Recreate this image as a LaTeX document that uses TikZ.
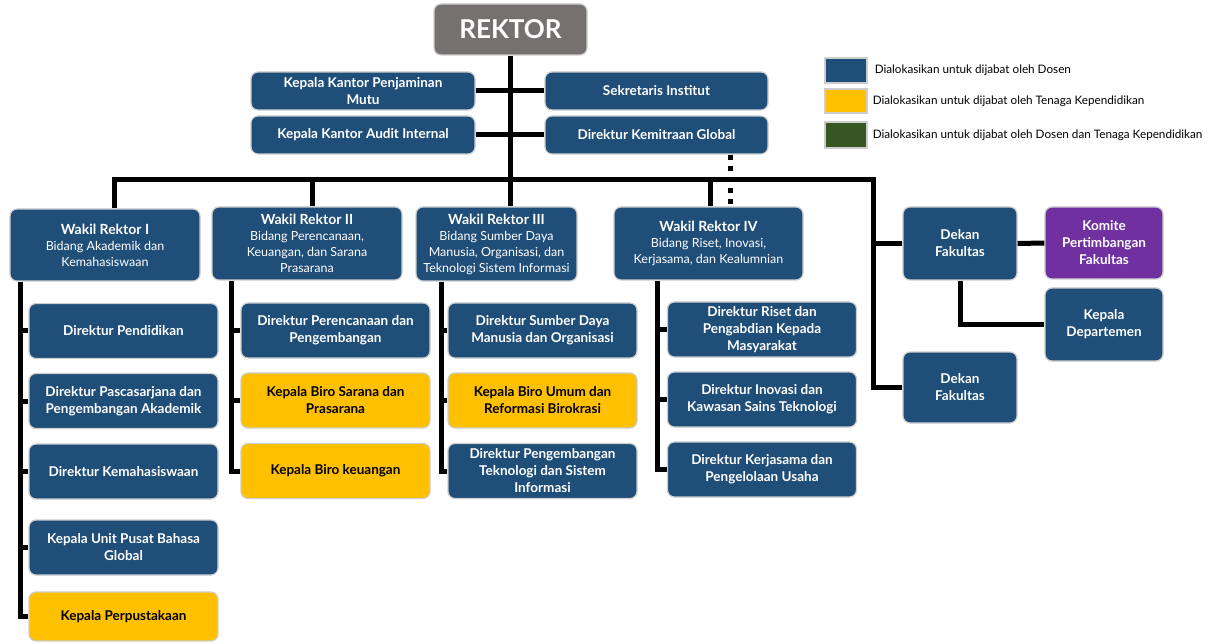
\documentclass[tikz,border=0pt]{standalone}
\usepackage{fontspec}
\setmainfont{Lato}

\begin{document}
\begin{tikzpicture}[x=1pt,y=-1pt]

% Define colors for the units
\definecolor{dosenColor}{RGB}{31,78,121}    % Blue for posts held by lecturers
\definecolor{tendikColor}{RGB}{255,192,0}   % Yellow for posts held by staff
\definecolor{campurColor}{RGB}{55,86,35}    % Green for posts held by both
\definecolor{komiteColor}{RGB}{112,48,160}  % Purple for the faculty committee
\definecolor{rektorColor}{RGB}{118,113,113} % Gray for the top box
\definecolor{edgeColor}{RGB}{205,205,205}   % Light outline of every box

% Styles for boxes and lines
\tikzset{
  unit/.style={
    draw=edgeColor, % Light outline
    line width=1.2pt,
    rounded corners=7pt,
    align=center,
    inner sep=1pt,
    font=\fontsize{13.5}{17}\selectfont\bfseries % Bold box text
  },
  dosen/.style={unit, fill=dosenColor, text=white},
  tendik/.style={unit, fill=tendikColor, text=black},
  komite/.style={unit, fill=komiteColor, text=white},
  wakil/.style={dosen, font=\fontsize{12.5}{16}\selectfont}, % Title + subtitle
  colBox/.style={minimum width=189pt, minimum height=55pt}, % Boxes under the vice rectors
  swatch/.style={draw=edgeColor, line width=1.2pt, minimum width=42pt, minimum height=25pt},
  legText/.style={anchor=west, inner sep=0pt, font=\fontsize{11.7}{13}\selectfont},
  orgLine/.style={line width=5pt}, % Thick black connectors
  tieLine/.style={line width=5pt, dash pattern=on 5pt off 6pt} % Dotted link
}

\useasboundingbox (0,0) rectangle (1221,644);

% Top of the chart
\node[unit, fill=rektorColor, text=white, minimum width=153pt, minimum height=51pt,
  font=\fontsize{26}{28}\selectfont\bfseries] (rektor) at (510.5,29.5) {REKTOR};
\node[dosen, minimum width=224pt, minimum height=38pt] (kpm) at (363,91) {Kepala Kantor Penjaminan\\Mutu};
\node[dosen, minimum width=224pt, minimum height=38pt] (kai) at (363,135) {Kepala Kantor Audit Internal};
\node[dosen, minimum width=223pt, minimum height=38pt] (sekr) at (656.5,91) {Sekretaris Institut};
\node[dosen, minimum width=223pt, minimum height=38pt] (dkg) at (656.5,135) {Direktur Kemitraan Global};

% Vice rectors
\node[wakil, minimum width=190pt, minimum height=72pt] (wr1) at (105,245)
  {{\fontsize{14}{18}\selectfont\bfseries Wakil Rektor I}\\Bidang Akademik dan\\Kemahasiswaan};
\node[wakil, minimum width=190pt, minimum height=73pt] (wr2) at (307,243.5)
  {{\fontsize{14}{18}\selectfont\bfseries Wakil Rektor II}\\Bidang Perencanaan,\\Keuangan, dan Sarana\\Prasarana};
\node[wakil, minimum width=161pt, minimum height=74pt] (wr3) at (496.5,244)
  {{\fontsize{14}{18}\selectfont\bfseries Wakil Rektor III}\\Bidang Sumber Daya\\Manusia, Organisasi, dan\\Teknologi Sistem Informasi};
\node[wakil, minimum width=189pt, minimum height=73pt] (wr4) at (708.5,243.5)
  {{\fontsize{14}{18}\selectfont\bfseries Wakil Rektor IV}\\Bidang Riset, Inovasi,\\Kerjasama, dan Kealumnian};

% Column under Wakil Rektor I
\node[dosen, colBox] (dp) at (123.5,331) {Direktur Pendidikan};
\node[dosen, colBox] (dpa) at (123.5,401) {Direktur Pascasarjana dan\\Pengembangan Akademik};
\node[dosen, colBox] (dk) at (123.5,471.5) {Direktur Kemahasiswaan};
\node[dosen, colBox] (kupbg) at (123.5,547.5) {Kepala Unit Pusat Bahasa\\Global};
\node[tendik, colBox, minimum height=49pt] (kperp) at (123.5,616.5) {Kepala Perpustakaan};

% Column under Wakil Rektor II
\node[dosen, colBox] (dpp) at (335.5,330.5) {Direktur Perencanaan dan\\Pengembangan};
\node[tendik, colBox] (kbsp) at (335.5,400.5) {Kepala Biro Sarana dan\\Prasarana};
\node[tendik, colBox] (kbk) at (335.5,471) {Kepala Biro keuangan};

% Column under Wakil Rektor III
\node[dosen, colBox] (dsdm) at (542.5,330.5) {Direktur Sumber Daya\\Manusia dan Organisasi};
\node[tendik, colBox] (kbu) at (542.5,400.5) {Kepala Biro Umum dan\\Reformasi Birokrasi};
\node[dosen, colBox] (dptsi) at (542.5,471) {Direktur Pengembangan\\Teknologi dan Sistem\\Informasi};

% Column under Wakil Rektor IV
\node[dosen, colBox] (drpm) at (762,329.5) {Direktur Riset dan\\Pengabdian Kepada\\Masyarakat};
\node[dosen, colBox] (dikst) at (762,399.5) {Direktur Inovasi dan\\Kawasan Sains Teknologi};
\node[dosen, colBox] (dkpu) at (762,469.5) {Direktur Kerjasama dan\\Pengelolaan Usaha};

% Faculties
\node[dosen, minimum width=114pt, minimum height=73pt] (dekan1) at (960,243.5) {Dekan\\Fakultas};
\node[komite, minimum width=118pt, minimum height=72pt] (komite) at (1104,243) {Komite\\Pertimbangan\\Fakultas};
\node[dosen, minimum width=118pt, minimum height=73pt] (kdep) at (1104,324.5) {Kepala\\Departemen};
\node[dosen, minimum width=114pt, minimum height=71pt] (dekan2) at (960,387.5) {Dekan\\Fakultas};

% Legend
\node[swatch, fill=dosenColor] (legDosen) at (846,70.5) {};
\node[swatch, fill=tendikColor, minimum height=24pt] (legTendik) at (846,101) {};
\node[swatch, fill=campurColor, minimum height=26pt] (legCampur) at (846,135) {};
\node[legText] (legDosenText) at ([xshift=7pt]legDosen.east) {Dialokasikan untuk dijabat oleh Dosen};
\node[legText] (legTendikText) at ([xshift=5pt]legTendik.east) {Dialokasikan untuk dijabat oleh Tenaga Kependidikan};
\node[legText] (legCampurText) at ([xshift=5pt]legCampur.east) {Dialokasikan untuk dijabat oleh Dosen dan Tenaga Kependidikan};

% Junction points on the long horizontal bar
\coordinate (barL) at (114,180);
\coordinate (drop2) at (312,180);
\coordinate (drop4) at (710,180);
\coordinate (barR) at (873,180);
\coordinate (tie) at (730,0);

% Spines of the columns
\coordinate (sp1) at (20.5,0);
\coordinate (sp2) at (231,0);
\coordinate (sp3) at (441,0);
\coordinate (sp4) at (657,0);

% Rector links
\draw[orgLine] (rektor.south) -- (rektor.south |- wr3.north);
\draw[orgLine] (kpm.east) -- (sekr.west);
\draw[orgLine] (kai.east) -- (dkg.west);
\draw[tieLine] (tie |- dkg.south) -- (tie |- wr4.north);

% Horizontal bar and drops
\draw[orgLine] (barL |- wr1.north) -- (barL) -- (barR) |- (dekan2.west);
\draw[orgLine] (drop2) -- (drop2 |- wr2.north);
\draw[orgLine] (drop4) -- (drop4 |- wr4.north);

% Column 1
\draw[orgLine] (sp1 |- wr1.south) |- (kperp.west);
\draw[orgLine] (sp1 |- dp.west) -- (dp.west);
\draw[orgLine] (sp1 |- dpa.west) -- (dpa.west);
\draw[orgLine] (sp1 |- dk.west) -- (dk.west);
\draw[orgLine] (sp1 |- kupbg.west) -- (kupbg.west);

% Column 2
\draw[orgLine] (sp2 |- wr2.south) |- (kbk.west);
\draw[orgLine] (sp2 |- dpp.west) -- (dpp.west);
\draw[orgLine] (sp2 |- kbsp.west) -- (kbsp.west);

% Column 3
\draw[orgLine] (sp3 |- wr3.south) |- (dptsi.west);
\draw[orgLine] (sp3 |- dsdm.west) -- (dsdm.west);
\draw[orgLine] (sp3 |- kbu.west) -- (kbu.west);

% Column 4
\draw[orgLine] (sp4 |- wr4.south) |- (dkpu.west);
\draw[orgLine] (sp4 |- drpm.west) -- (drpm.west);
\draw[orgLine] (sp4 |- dikst.west) -- (dikst.west);

% Faculty links
\draw[orgLine] (barR |- dekan1.west) -- (dekan1.west);
\draw[orgLine] (dekan1.east) -- (komite.west);
\draw[orgLine] (dekan1.south) |- (kdep.west);

\end{tikzpicture}
\end{document}
